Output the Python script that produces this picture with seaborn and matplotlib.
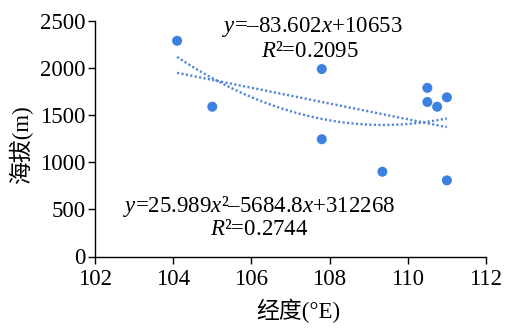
import numpy as np
import pandas as pd
import matplotlib
matplotlib.use("Agg")
import matplotlib.pyplot as plt
import seaborn as sns

# data
longitude = [104.1, 105.0, 107.8, 107.8, 109.35, 110.5, 110.5, 110.75, 111.0, 111.0]
altitude = [2290, 1590, 1990, 1245, 900, 1790, 1640, 1590, 1690, 808]
lin_coef = [-83.602, 10653]              # y = a x + b
quad_coef = [25.989, -5684.8, 312268]    # y = a x^2 + b x + c
x_ticks = [102, 104, 106, 108, 110, 112]
y_ticks = [0, 500, 1000, 1500, 2000, 2500]
lin_label = ["$y$=\u201383.602$x$+10653", "$R$\u00b2=0.2095"]
quad_label = ["$y$=25.989$x$\u00b2\u20135684.8$x$+312268", "$R$\u00b2=0.2744"]
x_label = "经度(°E)"
y_label = "海拔(m)"

sns.set_theme(style="ticks")
plt.rcParams["font.family"] = ["Liberation Serif", "Noto Sans CJK SC"]
plt.rcParams["mathtext.fontset"] = "custom"
plt.rcParams["mathtext.rm"] = "Liberation Serif"
plt.rcParams["mathtext.it"] = "Liberation Serif:italic"

fig = plt.figure(figsize=(5.11, 3.36), dpi=100)
L, R, T, B = 95, 486, 21, 256.5
ax = fig.add_axes([L / 511, 1 - B / 336, (R - L) / 511, (B - T) / 336])

df = pd.DataFrame({"lon": longitude, "alt": altitude})
xs = np.linspace(min(longitude), max(longitude), 200)
fit = pd.DataFrame({
    "x": xs,
    "lin": np.polyval(lin_coef, xs),
    "quad": np.polyval(quad_coef, xs),
})

line_color = "#4f84d8"
sns.lineplot(data=fit, x="x", y="lin", ax=ax, color=line_color, lw=1.7,
             linestyle=(0, (0.9, 1.0)))
sns.lineplot(data=fit, x="x", y="quad", ax=ax, color=line_color, lw=1.7,
             linestyle=(0, (0.9, 1.0)))
sns.scatterplot(data=df, x="lon", y="alt", ax=ax, color="#3d80e0", s=52,
                edgecolor="none", zorder=3)

fs = 16.5
ax.set_xlim(102, 112)
ax.set_ylim(0, 2500)
ax.set_xticks(x_ticks)
ax.set_yticks(y_ticks)
ax.tick_params(axis="both", labelsize=fs, direction="out", length=5, width=1,
               color="black", labelcolor="black", pad=2)
ax.tick_params(axis="x", pad=4)
for s in ["top", "right"]:
    ax.spines[s].set_visible(False)
for s in ["left", "bottom"]:
    ax.spines[s].set_color("black")
    ax.spines[s].set_linewidth(1.0)

ax.set_xlabel(x_label, fontsize=fs, color="black")
ax.set_ylabel(y_label, fontsize=fs, color="black")
ax.xaxis.set_label_coords((298 - L) / (R - L), -(299 - B) / (B - T))
ax.yaxis.set_label_coords(-(L - 33) / (R - L), (B - 145) / (B - T))

ax.text(107.57, 2440, lin_label[0], fontsize=fs, ha="center", va="center", color="black")
ax.text(107.5, 2175, lin_label[1], fontsize=fs, ha="center", va="center", color="black")
ax.text(106.2, 533, quad_label[0], fontsize=fs, ha="center", va="center", color="black")
ax.text(106.2, 286, quad_label[1], fontsize=fs, ha="center", va="center", color="black")

fig.savefig("out.png", dpi=100)
